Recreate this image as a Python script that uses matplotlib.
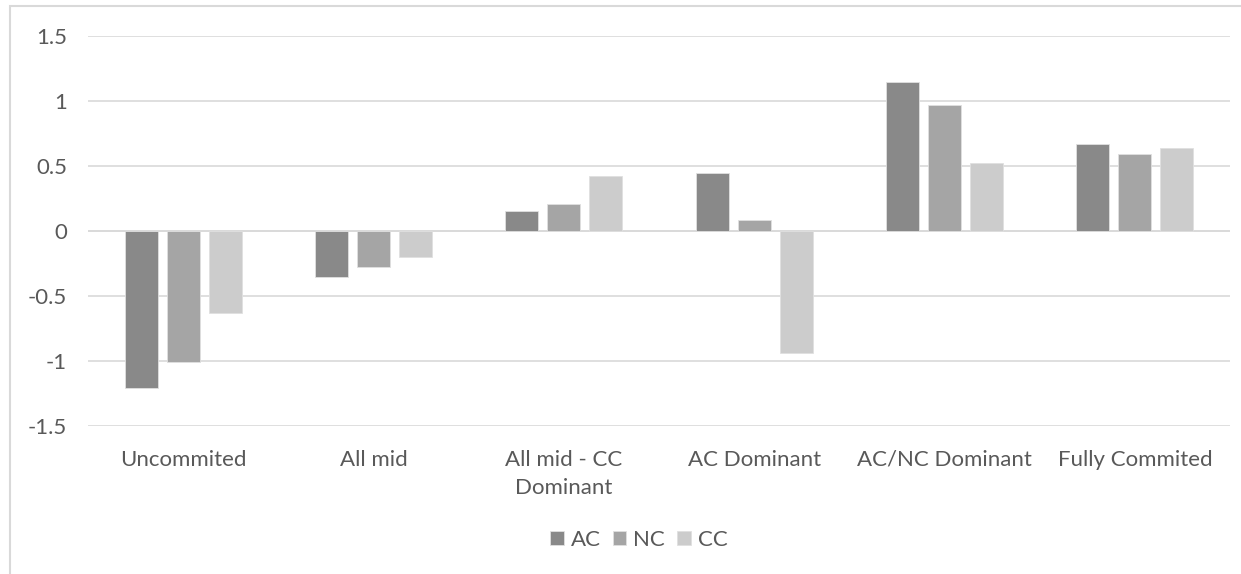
import numpy as np
import matplotlib.pyplot as plt
from matplotlib.patches import Rectangle

categories = ["Uncommited", "All mid", "All mid - CC\nDominant", "AC Dominant",
              "AC/NC Dominant", "Fully Commited"]
ac = [-1.21, -0.35, 0.155, 0.45, 1.15, 0.67]
nc = [-1.01, -0.28, 0.21, 0.085, 0.97, 0.59]
cc = [-0.63, -0.20, 0.425, -0.935, 0.52, 0.635]
yticks = [-1.5, -1, -0.5, 0, 0.5, 1, 1.5]
ytick_labels = ["-1.5", "-1", "-0.5", "0", "0.5", "1", "1.5"]

plt.rcParams["font.family"] = ["Lato", "DejaVu Sans"]
text_color = "#595959"
grid_color = "#d9d9d9"

fig = plt.figure(figsize=(12.41, 5.74), dpi=100)
ax = fig.add_axes([88 / 1241, 1 - 426 / 574, (1230 - 88) / 1241, 390 / 574])

# chart frame, cropped at right and bottom like the screenshot
fig.patches.append(Rectangle((10 / 1241, -0.05), 1.1, 1 - 6 / 574 + 0.05,
                             transform=fig.transFigure, fill=False,
                             edgecolor=grid_color, linewidth=1.5))

x = np.arange(len(categories))
w = 0.173
step = 0.22
series = [("AC", ac, "#898989"), ("NC", nc, "#a5a5a5"), ("CC", cc, "#cccccc")]
for i, (name, vals, col) in enumerate(series):
    ax.bar(x + (i - 1) * step, vals, width=w, color=col, edgecolor="#e0e0e0",
           linewidth=0.6, label=name, zorder=3)

ax.set_xlim(-0.5, len(categories) - 0.5)
ax.set_ylim(-1.5, 1.5)
ax.set_yticks(yticks)
ax.set_yticklabels(ytick_labels)
ax.set_xticks(x)
ax.set_xticklabels(categories, linespacing=1.55)
ax.yaxis.grid(True, color=grid_color, linewidth=1.2, zorder=0)
ax.axhline(0, color=grid_color, linewidth=1.2, zorder=2)
for s in ax.spines.values():
    s.set_visible(False)
ax.tick_params(axis="both", length=0, labelsize=16, colors=text_color)
ax.tick_params(axis="y", pad=15)
ax.tick_params(axis="x", pad=17)

leg = fig.legend(loc="center", bbox_to_anchor=(639 / 1241, 1 - 540 / 574),
                 ncol=3, frameon=False, fontsize=16, handlelength=0.6,
                 handleheight=0.6, handletextpad=0.32, columnspacing=0.55)
for t in leg.get_texts():
    t.set_color(text_color)

fig.savefig("out.png", dpi=100)
